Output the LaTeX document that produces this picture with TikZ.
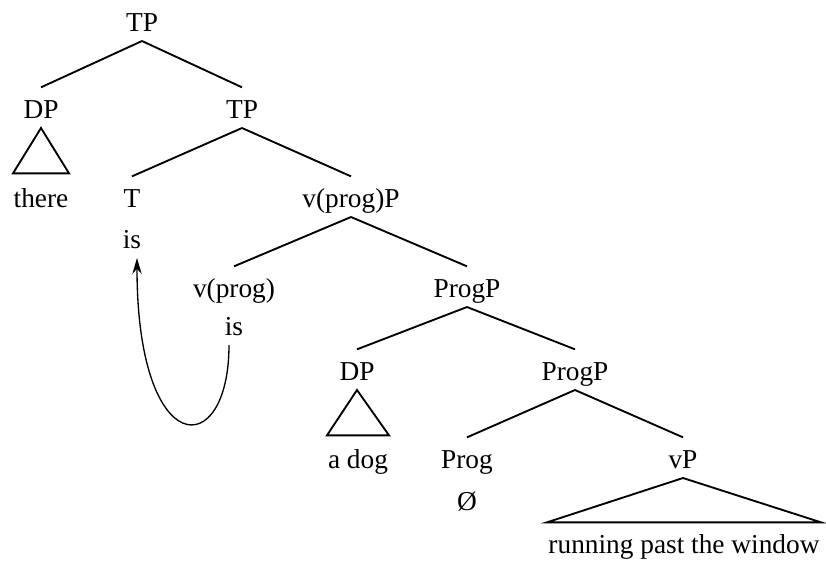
\documentclass[tikz,border=0pt]{standalone}
\usepackage{fontspec}
\newfontfamily\treefont{Liberation Serif}
\usetikzlibrary{arrows.meta,calc}
\begin{document}
\begin{tikzpicture}[x=0.75pt,y=-0.75pt,
  lab/.style={anchor=base, inner sep=0pt, outer sep=0pt, text height=23pt, text depth=7.5pt, font=\treefont\fontsize{20.5}{24}\selectfont},
  edge/.style={line width=1.4pt},
  curv/.style={line width=1pt, -{Stealth[length=12pt,width=7pt]}}]
\useasboundingbox (0,0) rectangle (826,561);
\node[lab] (tp) at (142,31) {TP};
\node[lab] (dp) at (41,118) {DP};
\node[lab] (tp2) at (242,118) {TP};
\node[lab] (there) at (41,207) {there};
\node[lab] (t) at (132,207) {T};
\node[lab] (vpp) at (351,207) {v(prog)P};
\node[lab] (is1) at (132,248) {is};
\node[lab] (vprog) at (234,297) {v(prog)};
\node[lab] (progp) at (467,297) {ProgP};
\node[lab] (is2) at (234,335) {is};
\node[lab] (dp2) at (357,380) {DP};
\node[lab] (progp2) at (575,380) {ProgP};
\node[lab] (adog) at (358,468) {a dog};
\node[lab] (prog) at (467,468) {Prog};
\node[lab] (vp) at (683,468) {vP};
\node[lab] (null) at (467,510) {\O};
\node[lab] (run) at (684,553) {running past the window};
\draw[edge] (tp.south) -- (dp.north);
\draw[edge] (tp.south) -- (tp2.north);
\draw[edge] (tp2.south) -- (t.north);
\draw[edge] (tp2.south) -- (vpp.north);
\draw[edge] (vpp.south) -- (vprog.north);
\draw[edge] (vpp.south) -- (progp.north);
\draw[edge] (progp.south) -- (dp2.north);
\draw[edge] (progp.south) -- (progp2.north);
\draw[edge] (progp2.south) -- (prog.north);
\draw[edge] (progp2.south) -- (vp.north);
\draw[edge] (dp.south) -- ($(there.north)+(-28,-3)$) -- ($(there.north)+(28,-3)$) -- cycle;
\draw[edge] (dp2.south) -- ($(adog.north)+(-31,-2)$) -- ($(adog.north)+(31,-2)$) -- cycle;
\draw[edge] (vp.south) -- ($(run.north)+(-137,0)$) -- ($(run.north)+(137,0)$) -- cycle;
\draw[curv] ([xshift=-3.75pt]is2.south) .. controls +(0,117) and +(0,204) .. ([xshift=3.75pt]is1.south);
\end{tikzpicture}
\end{document}
